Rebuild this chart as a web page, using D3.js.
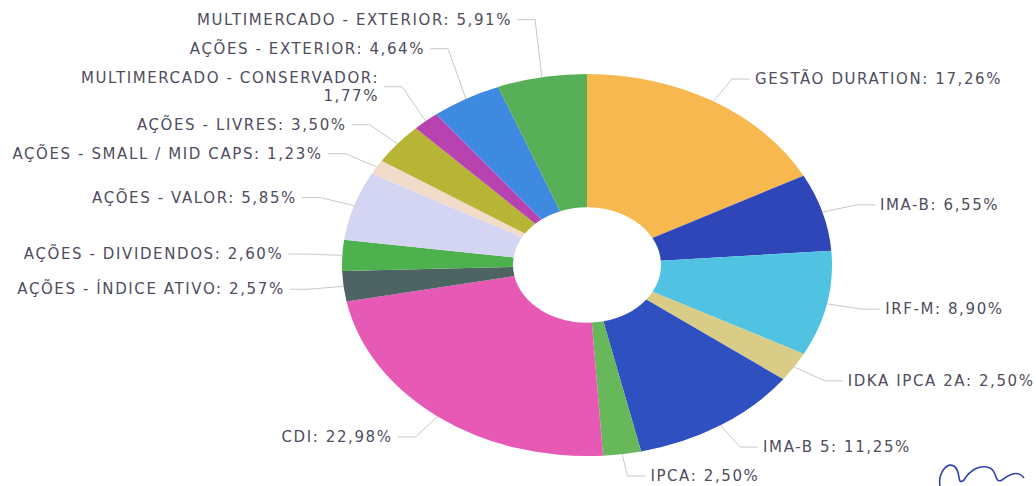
<!DOCTYPE html>
<html>
    <head>
        <meta charset="utf-8">
        <title>Alocação por estratégia</title>
        <script src="https://d3js.org/d3.v7.min.js"></script>
        <style>
            body { margin: 0; background: #fff; }
            text { font-family: "DejaVu Sans", sans-serif; }
        </style>
    </head>
    <body>
        <script>
            const width = 1036;
            const height = 486;

            // dados (sentido horário, a partir do topo)
            const categories = [
                "GESTÃO DURATION", "IMA-B", "IRF-M", "IDKA IPCA 2A", "IMA-B 5", "IPCA", "CDI",
                "AÇÕES - ÍNDICE ATIVO", "AÇÕES - DIVIDENDOS", "AÇÕES - VALOR",
                "AÇÕES - SMALL / MID CAPS", "AÇÕES - LIVRES", "MULTIMERCADO - CONSERVADOR",
                "AÇÕES - EXTERIOR", "MULTIMERCADO - EXTERIOR"
            ];
            const values = [17.26, 6.55, 8.90, 2.50, 11.25, 2.50, 22.98,
                            2.57, 2.60, 5.85, 1.23, 3.50, 1.77, 4.64, 5.91];
            const valueLabels = ["17,26%", "6,55%", "8,90%", "2,50%", "11,25%", "2,50%", "22,98%",
                                 "2,57%", "2,60%", "5,85%", "1,23%", "3,50%", "1,77%", "4,64%", "5,91%"];
            const colors = ["#f8b850", "#2f46b8", "#50c2e2", "#d8cc86", "#2f50c0", "#66b85a", "#e65ab6",
                            "#4d6462", "#4db24e", "#d4d5f2", "#f2dbc8", "#b8b436", "#b742b0", "#3d8ae0", "#57b058"];

            const cx = 587, cy = 265;
            const rx = 245, squash = 0.78;
            const ry = rx * squash;
            const innerR = 74;

            const svg = d3.select("body").append("svg")
                .attr("width", width)
                .attr("height", height)
            ;

            const data = categories.map((c, i) => ({ name: c, value: values[i], label: valueLabels[i], color: colors[i] }));
            const arcs = d3.pie().value(d => d.value).sort(null)(data);
            const arc = d3.arc().innerRadius(innerR).outerRadius(rx);

            // pizza achatada (elipse)
            svg.append("g")
                .attr("transform", `translate(${cx},${cy}) scale(1,${squash})`)
                .selectAll("path")
                .data(arcs).join("path")
                .attr("d", arc)
                .attr("fill", d => d.data.color)
            ;

            // posições dos rótulos
            const labels = arcs.map(d => {
                const a = (d.startAngle + d.endAngle) / 2;
                const s = Math.sin(a), c = Math.cos(a);
                const right = s >= 0;
                const lines = d.data.name === "MULTIMERCADO - CONSERVADOR"
                    ? [d.data.name + ":", d.data.label]
                    : [d.data.name + ": " + d.data.label];
                return {
                    a, right, lines,
                    x0: cx + rx * s, y0: cy - ry * c,
                    x1: cx + (rx + 36) * s, y: Math.min(height - 10, cy - (ry + 26) * c)
                };
            });

            // evita sobreposição no lado esquerdo (de baixo para cima)
            const lineH = 18, gapH = 29;
            const left = labels.filter(l => !l.right && l.a > Math.PI * 1.45).sort((p, q) => q.y - p.y);
            let limit = Infinity;
            left.forEach(l => {
                const half = (l.lines.length - 1) * lineH / 2;
                if (l.y + half > limit) l.y = limit - half;
                limit = l.y - half - gapH;
            });

            const g = svg.append("g");
            g.selectAll("polyline")
                .data(labels).join("polyline")
                .attr("points", d => {
                    const x2 = d.right ? d.x1 + 18 : d.x1 - 18;
                    return [[d.x0, d.y0], [d.x1, d.y], [x2, d.y]].map(p => p.join(",")).join(" ");
                })
                .attr("fill", "none")
                .attr("stroke", "#c8c8cc")
                .attr("stroke-width", 1)
            ;

            const t = g.selectAll("text")
                .data(labels).join("text")
                .attr("x", d => d.right ? d.x1 + 23 : d.x1 - 23)
                .attr("y", d => d.y - (d.lines.length - 1) * lineH / 2)
                .attr("text-anchor", d => d.right ? "start" : "end")
                .attr("dominant-baseline", "middle")
                .style("font-size", "15px")
                .style("letter-spacing", "1.6px")
                .style("fill", "#4f4d5e")
            ;
            t.selectAll("tspan")
                .data(d => d.lines.map((s, i) => ({ s, i, d }))).join("tspan")
                .attr("x", e => e.d.right ? e.d.x1 + 23 : e.d.x1 - 23)
                .attr("dy", e => e.i === 0 ? 0 : lineH)
                .text(e => e.s)
            ;

            // rubrica (canto inferior direito)
            svg.append("path")
                .attr("d", "M940,486 C938,474 946,462 954,466 C962,472 956,486 964,480 C970,470 980,464 990,468 C998,472 994,484 1002,480 C1010,474 1018,470 1024,478")
                .attr("fill", "none")
                .attr("stroke", "#3340b0")
                .attr("stroke-width", 1.6)
            ;
        </script>
    </body>
</html>
